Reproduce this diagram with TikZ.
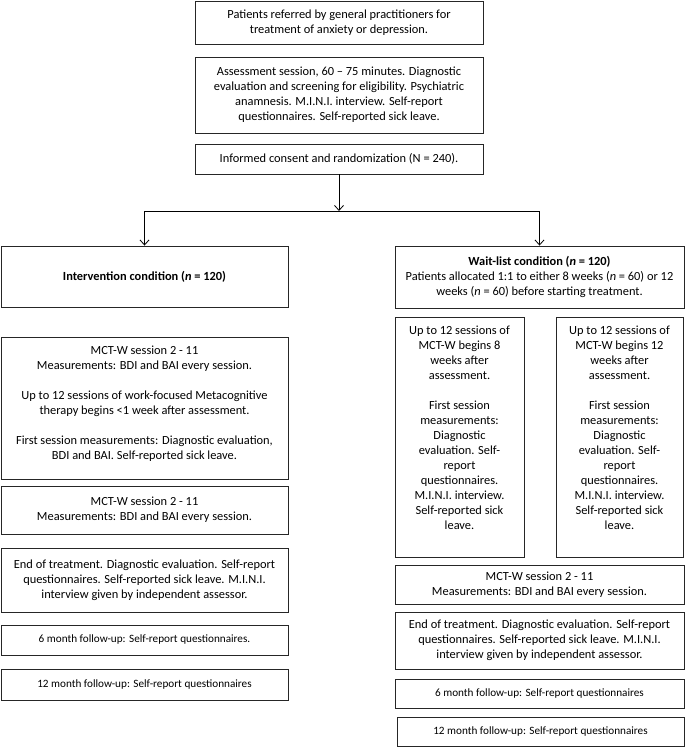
\documentclass[tikz,border=0pt]{standalone}
\usepackage{fontspec}
\setmainfont{Carlito}
\usetikzlibrary{arrows.meta}
\newcommand\mytopbox[3]{\parbox[c][#2][t]{#1}{\centering\vspace*{7pt}\strut #3\par}}
\begin{document}
\begin{tikzpicture}[x=1pt,y=-1pt,
  box/.style={draw=black!85, line width=0.9pt, inner sep=0pt, align=center, font=\fontsize{12.4}{15}\selectfont},
  tbox/.style={draw=black!85, line width=0.9pt, inner sep=0pt, font=\fontsize{12.4}{15}\selectfont},
  small/.style={font=\fontsize{11.2}{14}\selectfont},
  arr/.style={-{Straight Barb[length=5pt,width=9pt]}, line width=0.8pt},
  conn/.style={line width=0.8pt}]
\useasboundingbox (0,0) rectangle (685,747);
% top column
\node[box, minimum width=288pt, minimum height=43pt] (b1) at (339,22.5)
  {Patients referred by general practitioners for\\treatment of anxiety or depression.};
\node[box, minimum width=288pt, minimum height=76pt] (b2) at (339,95)
  {Assessment session, 60 -- 75 minutes. Diagnostic\\evaluation and screening for eligibility. Psychiatric\\anamnesis. M.I.N.I. interview. Self-report\\questionnaires. Self-reported sick leave.};
\node[box, minimum width=288pt, minimum height=30pt] (b3) at (339,159)
  {Informed consent and randomization (N = 240).};
% condition boxes
\node[box, minimum width=287pt, minimum height=61pt] (int) at (144.5,276.5)
  {\textbf{Intervention condition (\textit{n} = 120)}};
\node[box, minimum width=289pt, minimum height=62pt] (wl) at (539.5,277)
  {\textbf{Wait-list condition (\textit{n} = 120)}\\Patients allocated 1:1 to either 8 weeks (\textit{n} = 60) or 12\\weeks (\textit{n} = 60) before starting treatment.};
% left column
\node[tbox] (lbig) at (144.5,408)
  {\mytopbox{287pt}{142pt}{MCT-W session 2 - 11\\Measurements: BDI and BAI every session.\\[15pt]Up to 12 sessions of work-focused Metacognitive\\therapy begins <1 week after assessment.\\[15pt]First session measurements: Diagnostic evaluation,\\BDI and BAI. Self-reported sick leave.}};
\node[box, minimum width=287pt, minimum height=48pt] (lmct) at (144.5,510)
  {MCT-W session 2 - 11\\Measurements: BDI and BAI every session.};
\node[box, minimum width=287pt, minimum height=64pt] (lend) at (144.5,580)
  {End of treatment. Diagnostic evaluation. Self-report\\questionnaires. Self-reported sick leave. M.I.N.I.\\interview given by independent assessor.};
\node[box, small, minimum width=287pt, minimum height=30pt] (l6) at (144.5,640)
  {6 month follow-up: Self-report questionnaires.};
\node[box, small, minimum width=287pt, minimum height=31pt] (l12) at (144.5,684.5)
  {12 month follow-up: Self-report questionnaires};
% right column
\node[tbox] (ws8) at (459.5,437)
  {\mytopbox{129pt}{240pt}{Up to 12 sessions of\\MCT-W begins 8\\weeks after\\assessment.\\[15pt]First session\\measurements:\\Diagnostic\\evaluation. Self-\\report\\questionnaires.\\M.I.N.I. interview.\\Self-reported sick\\leave.}};
\node[tbox] (ws12) at (619.5,437)
  {\mytopbox{127pt}{240pt}{Up to 12 sessions of\\MCT-W begins 12\\weeks after\\assessment.\\[15pt]First session\\measurements:\\Diagnostic\\evaluation. Self-\\report\\questionnaires.\\M.I.N.I. interview.\\Self-reported sick\\leave.}};
\node[box, minimum width=289pt, minimum height=39pt] (rmct) at (539.5,584.5)
  {MCT-W session 2 - 11\\Measurements: BDI and BAI every session.};
\node[box, minimum width=289pt, minimum height=57pt] (rend) at (539.5,640.5)
  {End of treatment. Diagnostic evaluation. Self-report\\questionnaires. Self-reported sick leave. M.I.N.I.\\interview given by independent assessor.};
\node[box, small, minimum width=289pt, minimum height=29pt] (r6) at (539.5,693.5)
  {6 month follow-up: Self-report questionnaires};
\node[box, small, minimum width=287pt, minimum height=29pt] (r12) at (540.5,731.5)
  {12 month follow-up: Self-report questionnaires};
% connectors
\coordinate (split) at (339,211);
\draw[arr] (b3.south) -- (split);
\draw[conn] (split -| int.north) -- (split -| wl.north);
\draw[arr] (split -| int.north) -- (int.north);
\draw[arr] (split -| wl.north) -- (wl.north);
\end{tikzpicture}
\end{document}
